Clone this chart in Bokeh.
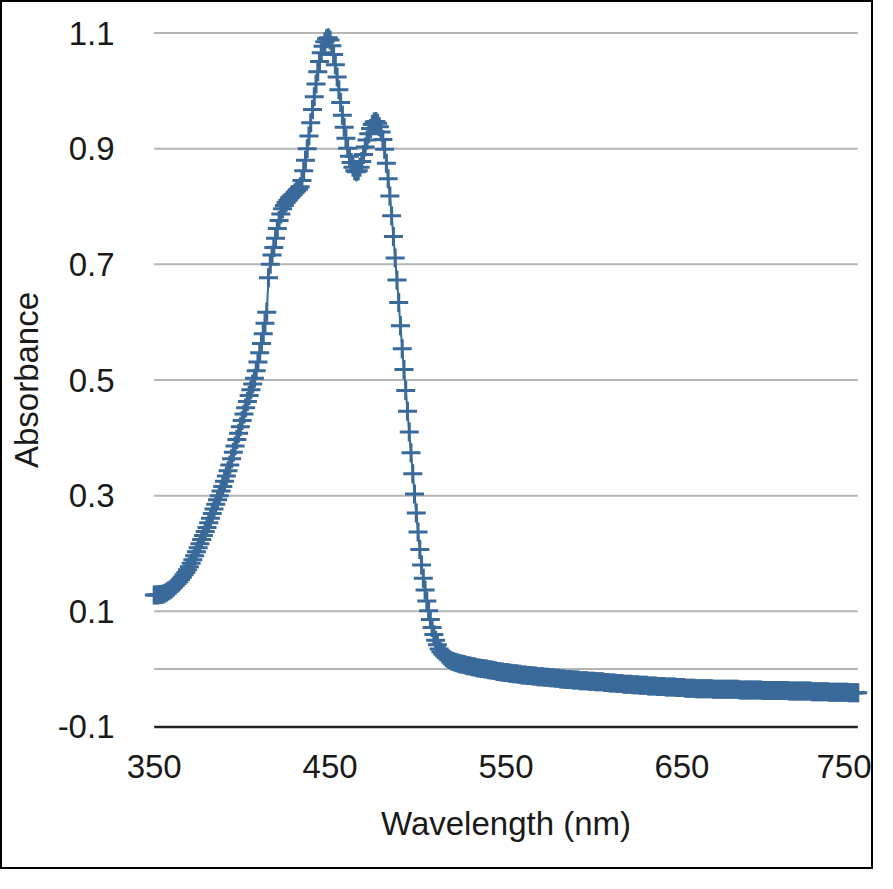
from bokeh.plotting import figure
from bokeh.models import Range1d
from bokeh.embed import file_html
from bokeh.resources import INLINE

# ---- data (1 nm steps) ----
wavelength = list(range(350, 751))
absorbance = [
    0.128, 0.128, 0.128, 0.129, 0.129, 0.130, 0.131, 0.133, 0.135, 0.137,
    0.139, 0.142, 0.145, 0.148, 0.151, 0.155, 0.159, 0.163, 0.167, 0.172,
    0.177, 0.183, 0.189, 0.196, 0.203, 0.210, 0.217, 0.224, 0.231, 0.238,
    0.245, 0.253, 0.261, 0.269, 0.277, 0.285, 0.293, 0.300, 0.308, 0.316,
    0.325, 0.334, 0.343, 0.353, 0.364, 0.375, 0.386, 0.397, 0.408, 0.419,
    0.430, 0.441, 0.452, 0.463, 0.473, 0.483, 0.493, 0.503, 0.516, 0.531,
    0.547, 0.563, 0.580, 0.598, 0.617, 0.677, 0.700, 0.716, 0.729, 0.745,
    0.762, 0.776, 0.787, 0.796, 0.802, 0.807, 0.811, 0.815, 0.818, 0.821,
    0.824, 0.827, 0.830, 0.834, 0.845, 0.862, 0.880, 0.900, 0.922, 0.945,
    0.968, 0.990, 1.012, 1.033, 1.051, 1.066, 1.077, 1.085, 1.090, 1.092,
    1.088, 1.078, 1.063, 1.045, 1.024, 1.002, 0.980, 0.958, 0.937, 0.918,
    0.901, 0.887, 0.876, 0.868, 0.862, 0.860, 0.862, 0.868, 0.878, 0.890,
    0.903, 0.915, 0.926, 0.935, 0.942, 0.946, 0.947, 0.944, 0.938, 0.929,
    0.916, 0.899, 0.875, 0.848, 0.818, 0.784, 0.748, 0.711, 0.673, 0.634,
    0.594, 0.554, 0.518, 0.482, 0.446, 0.410, 0.374, 0.338, 0.303, 0.270,
    0.237, 0.207, 0.180, 0.157, 0.137, 0.118, 0.101, 0.086, 0.072, 0.060,
    0.050, 0.042, 0.035, 0.030, 0.026, 0.023, 0.020, 0.018, 0.016, 0.014,
    0.013, 0.012, 0.011, 0.010, 0.009, 0.009, 0.008, 0.007, 0.006, 0.006,
    0.005, 0.004, 0.004, 0.003, 0.002, 0.002, 0.001, 0.001, 0.000, 0.000,
    -0.001, -0.001, -0.002, -0.002, -0.003, -0.004, -0.004, -0.005, -0.005, -0.006,
    -0.006, -0.006, -0.007, -0.007, -0.008, -0.008, -0.008, -0.009, -0.009, -0.010,
    -0.010, -0.010, -0.011, -0.011, -0.011, -0.012, -0.012, -0.012, -0.013, -0.013,
    -0.013, -0.013, -0.014, -0.014, -0.014, -0.015, -0.015, -0.015, -0.016, -0.016,
    -0.016, -0.017, -0.017, -0.017, -0.018, -0.018, -0.018, -0.018, -0.019, -0.019,
    -0.019, -0.019, -0.020, -0.020, -0.020, -0.020, -0.020, -0.021, -0.021, -0.021,
    -0.021, -0.022, -0.022, -0.022, -0.022, -0.022, -0.023, -0.023, -0.023, -0.024,
    -0.024, -0.024, -0.024, -0.025, -0.025, -0.025, -0.025, -0.026, -0.026, -0.026,
    -0.026, -0.026, -0.027, -0.027, -0.027, -0.027, -0.028, -0.028, -0.028, -0.028,
    -0.028, -0.029, -0.029, -0.029, -0.029, -0.029, -0.030, -0.030, -0.030, -0.030,
    -0.030, -0.031, -0.031, -0.031, -0.031, -0.031, -0.031, -0.032, -0.032, -0.032,
    -0.032, -0.032, -0.033, -0.033, -0.033, -0.033, -0.033, -0.033, -0.034, -0.034,
    -0.034, -0.034, -0.034, -0.034, -0.034, -0.034, -0.034, -0.034, -0.035, -0.035,
    -0.035, -0.035, -0.035, -0.035, -0.035, -0.035, -0.035, -0.035, -0.035, -0.035,
    -0.035, -0.035, -0.035, -0.036, -0.036, -0.036, -0.036, -0.036, -0.036, -0.036,
    -0.036, -0.036, -0.036, -0.036, -0.036, -0.036, -0.037, -0.037, -0.037, -0.037,
    -0.037, -0.037, -0.037, -0.037, -0.037, -0.037, -0.037, -0.037, -0.037, -0.037,
    -0.037, -0.038, -0.038, -0.038, -0.038, -0.038, -0.038, -0.038, -0.038, -0.038,
    -0.038, -0.038, -0.038, -0.038, -0.039, -0.039, -0.039, -0.039, -0.039, -0.039,
    -0.039, -0.039, -0.039, -0.039, -0.040, -0.040, -0.040, -0.040, -0.040, -0.040,
    -0.040, -0.040, -0.040, -0.040, -0.040, -0.041, -0.041, -0.041, -0.041, -0.041,
    -0.041,
]
x_ticks = [350, 450, 550, 650, 750]
y_ticks = [-0.1, 0.1, 0.3, 0.5, 0.7, 0.9, 1.1]
y_tick_labels = {-0.1: "-0.1"}
grid_levels = [0.0, 0.1, 0.3, 0.5, 0.7, 0.9, 1.1]
axis_level = [-0.1]

SERIES = "#3a6a9a"
FONT = "Liberation Sans"
FS = "33px"

p = figure(width=873, height=869, output_backend="svg", toolbar_location=None,
           x_range=Range1d(344.5, 755.5), y_range=Range1d(-0.12, 1.12),
           min_border_left=142, min_border_top=19, min_border_right=8,
           min_border_bottom=133)
p.styles = {"border": "2px solid black"}
p.outline_line_color = None
p.xgrid.visible = False
p.ygrid.visible = False

# horizontal gridlines and the category-axis line (span the data range only)
p.segment(x0=x_ticks[0], x1=x_ticks[-1], y0=grid_levels, y1=grid_levels,
          line_color="#b4b4b4", line_width=2)
p.segment(x0=x_ticks[0], x1=x_ticks[-1], y0=axis_level, y1=axis_level,
          line_color="#222222", line_width=2.5)

p.line(wavelength, absorbance, line_color=SERIES, line_width=2)
p.scatter(wavelength, absorbance, marker="cross", size=19,
          line_color=SERIES, line_width=3)

for ax in (p.xaxis, p.yaxis):
    ax.axis_line_color = None
    ax.major_tick_line_color = None
    ax.minor_tick_line_color = None
    ax.major_label_text_font = FONT
    ax.major_label_text_font_size = FS
    ax.major_label_text_color = "#1a1a1a"
    ax.axis_label_text_font = FONT
    ax.axis_label_text_font_size = FS
    ax.axis_label_text_font_style = "normal"
    ax.axis_label_text_color = "#1a1a1a"

p.xaxis.ticker = x_ticks
p.yaxis.ticker = y_ticks
p.yaxis.major_label_overrides = y_tick_labels
p.xaxis.axis_label = "Wavelength (nm)"
p.yaxis.axis_label = "Absorbance"
p.yaxis.major_label_standoff = 24
p.xaxis.major_label_standoff = 10
p.yaxis.axis_label_standoff = 10
p.xaxis.axis_label_standoff = 24

open("out.html", "w").write(file_html(p, INLINE))
